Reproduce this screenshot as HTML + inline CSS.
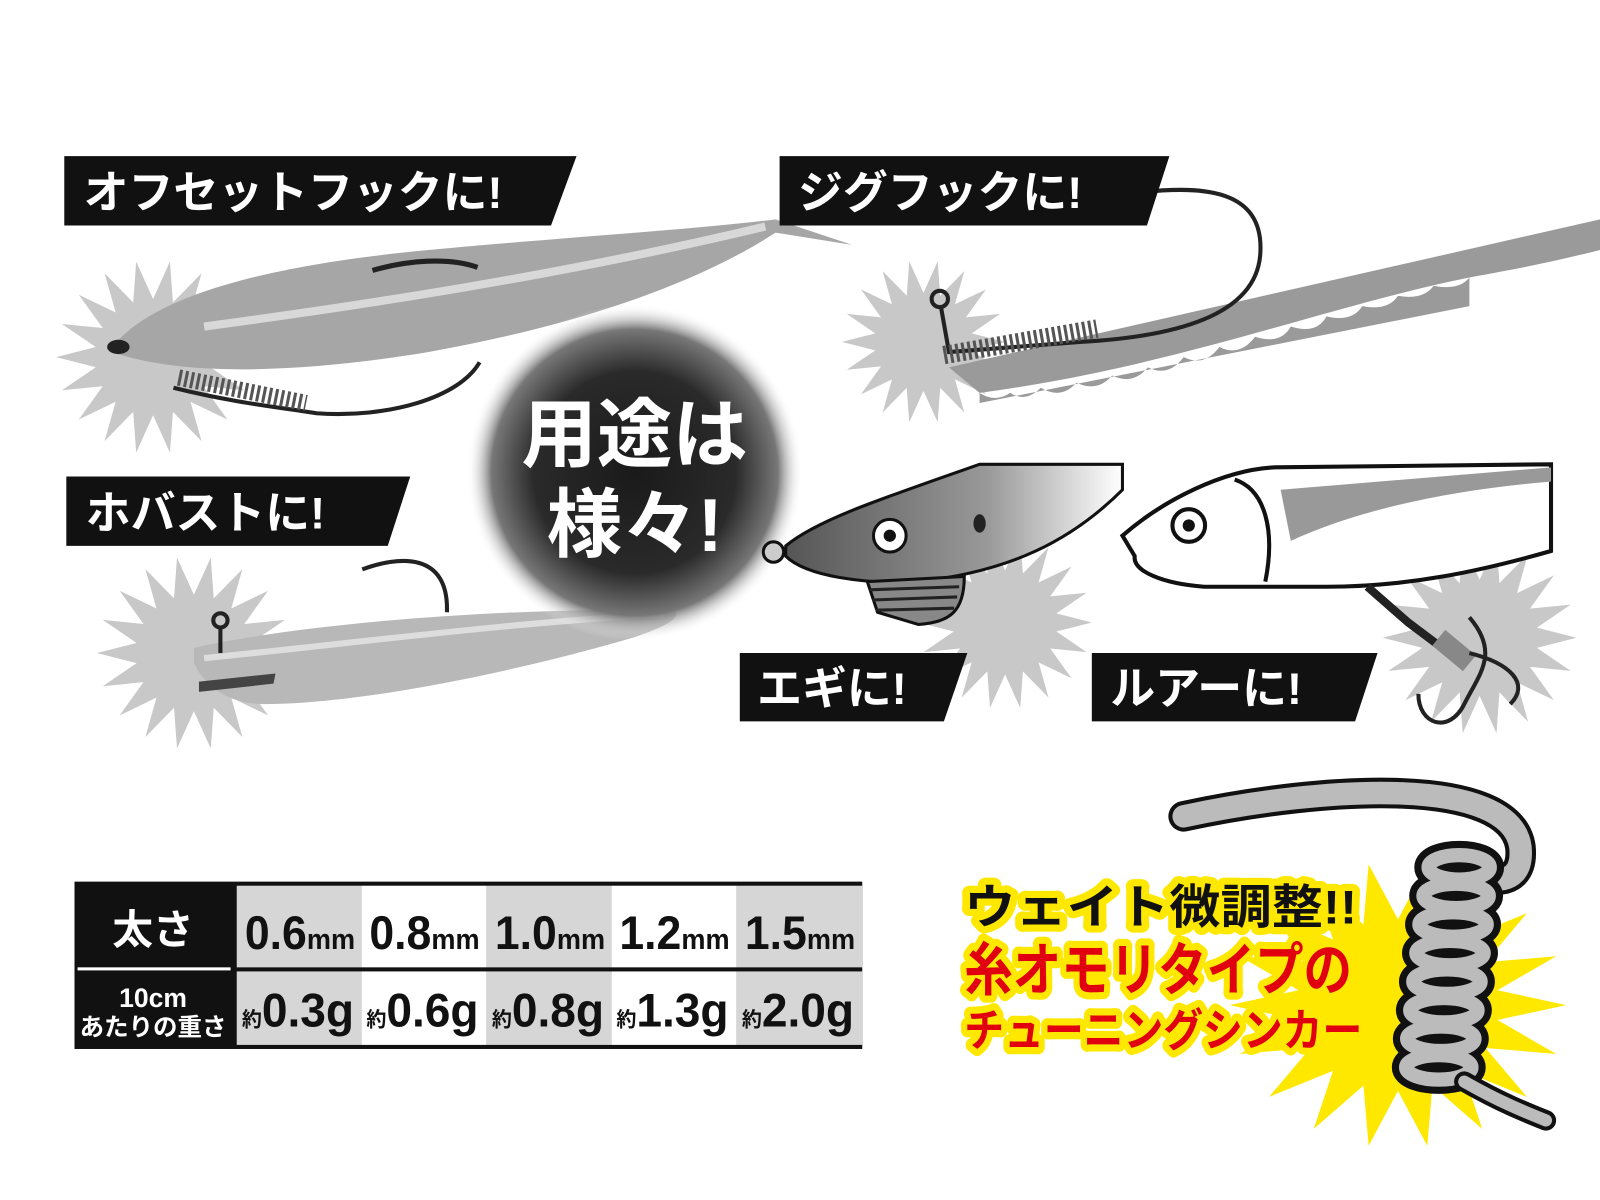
<!DOCTYPE html>
<html><head><meta charset="utf-8"><style>
html,body{margin:0;padding:0;background:#fff;width:1600px;height:1200px;overflow:hidden}
svg{display:block}
text{font-family:"Liberation Sans","Noto Sans CJK JP",sans-serif;font-weight:bold}
</style></head><body>
<svg width="1600" height="1200" viewBox="0 0 1568 1176" preserveAspectRatio="none">
<defs>
<polygon id="star" points="1,0 .591,.104 .94,.342 .52,.3 .766,.643 .386,.46 .5,.866 .205,.564 .174,.985 0,.6 -.174,.985 -.205,.564 -.5,.866 -.386,.46 -.766,.643 -.52,.3 -.94,.342 -.591,.104 -1,0 -.591,-.104 -.94,-.342 -.52,-.3 -.766,-.643 -.386,-.46 -.5,-.866 -.205,-.564 -.174,-.985 0,-.6 .174,-.985 .205,-.564 .5,-.866 .386,-.46 .766,-.643 .52,-.3 .94,-.342 .591,-.104"/>
<radialGradient id="cg" cx="50%" cy="50%" r="50%">
<stop offset="0" stop-color="#1a1a1a"/><stop offset=".6" stop-color="#2a2a2a"/><stop offset=".85" stop-color="#777"/><stop offset="1" stop-color="#fff" stop-opacity="0"/></radialGradient>
<linearGradient id="eg" x1="0" x2="1"><stop offset="0" stop-color="#555"/><stop offset=".6" stop-color="#999"/><stop offset="1" stop-color="#fff"/></linearGradient>
</defs>
<rect width="1568" height="1176" fill="#fff"/>

<g fill="#c8c8c8">
<use href="#star" transform="translate(150,350) scale(95)"/>
<use href="#star" transform="translate(905,335) scale(80)"/>
<use href="#star" transform="translate(190,640) scale(95)"/>
<use href="#star" transform="translate(985,610) scale(85)"/>
<use href="#star" transform="translate(1450,625) scale(95)"/>
</g>

<path d="M110,340 C150,290 260,260 420,245 C560,232 680,225 760,215 L835,240 L760,228 C680,280 560,320 420,345 C300,365 180,370 110,345 Z" fill="#a6a6a6"/>
<path d="M200,320 C350,300 550,270 750,222" stroke="#d8d8d8" stroke-width="8" fill="none"/>
<ellipse cx="116" cy="340" rx="11" ry="7" fill="#222"/>
<path d="M365,265 C400,255 440,252 468,262" stroke="#222" stroke-width="5" fill="none"/>
<path d="M170,380 C230,395 280,400 310,405 C380,410 450,390 470,355" stroke="#222" stroke-width="4" fill="none"/>
<path d="M175,370 L300,395" stroke="#555" stroke-width="16" stroke-dasharray="3 3" fill="none"/>

<path d="M930,360 L1568,215 L1568,245 C1500,262 1460,268 1440,272 C1300,300 1150,360 960,385 Z" fill="#9a9a9a"/>
<path d="M960,385 Q975,395 990,385 Q1005,395 1020,380 Q1040,392 1055,375 Q1075,385 1090,368 Q1110,378 1125,360 Q1145,370 1160,350 Q1180,360 1195,340 Q1215,350 1230,330 Q1255,338 1265,320 Q1290,328 1300,310 Q1325,316 1335,300 Q1360,305 1370,290 Q1395,294 1405,280 Q1430,285 1440,272 L1440,300 L960,395Z" fill="#9a9a9a"/>
<path d="M1105,190 C1180,180 1240,185 1235,250 C1230,310 1150,330 1060,335 L930,345 L922,300" stroke="#222" stroke-width="4" fill="none"/>
<circle cx="921" cy="293" r="8" fill="none" stroke="#222" stroke-width="4"/>
<path d="M925,348 L1075,322" stroke="#555" stroke-width="18" stroke-dasharray="3 3" fill="none"/>

<path d="M190,635 C300,610 500,595 660,598 C670,605 650,615 620,625 C500,660 350,690 260,690 C220,690 200,670 190,650Z" fill="#b8b8b8"/>
<path d="M200,645 C350,630 500,610 650,602" stroke="#ddd" stroke-width="6" fill="none"/>
<path d="M355,558 C390,545 440,540 438,600" stroke="#222" stroke-width="4" fill="none"/>
<circle cx="216" cy="608" r="7" fill="none" stroke="#222" stroke-width="4"/>
<path d="M216,615 L216,640" stroke="#222" stroke-width="4"/>
<path d="M195,668 L270,660 L268,670 L195,678Z" fill="#444"/>

<circle cx="622" cy="463" r="165" fill="url(#cg)"/>
<text x="622" y="452" font-size="74" fill="#fff" text-anchor="middle">用途は</text>
<text x="622" y="540" font-size="74" fill="#fff" text-anchor="middle">様々!</text>

<path d="M770,535 C800,510 860,490 960,455 L1100,455 L1100,480 C1050,530 990,560 900,570 C850,573 790,565 770,545Z" fill="url(#eg)" stroke="#111" stroke-width="3"/>
<circle cx="758" cy="541" r="10" fill="#ccc" stroke="#111" stroke-width="3"/>
<circle cx="872" cy="525" r="16" fill="#fff" stroke="#111" stroke-width="3"/>
<circle cx="872" cy="525" r="6" fill="#111"/>
<ellipse cx="960" cy="513" rx="6" ry="9" fill="#222"/>
<path d="M850,570 L945,565 C945,600 930,610 900,612 L860,600Z" fill="#888" stroke="#111" stroke-width="3"/>
<path d="M852,578 L940,575 M855,588 L938,585 M858,598 L935,596" stroke="#222" stroke-width="3"/>

<path d="M1100,525 C1140,490 1200,460 1250,458 L1520,455 L1520,540 C1450,560 1380,575 1300,575 L1180,575 C1140,572 1110,560 1112,545Z" fill="#fff" stroke="#111" stroke-width="4"/>
<path d="M1255,480 L1520,458 L1520,472 C1420,480 1330,500 1265,530Z" fill="#999"/>
<circle cx="1165" cy="515" r="16" fill="#fff" stroke="#111" stroke-width="4"/>
<circle cx="1165" cy="515" r="6" fill="#111"/>
<path d="M1210,470 C1240,480 1250,520 1240,570" stroke="#111" stroke-width="4" fill="none"/>
<path d="M1340,575 L1380,610 L1420,640" stroke="#222" stroke-width="8" fill="none"/>
<path d="M1410,625 L1440,650" stroke="#888" stroke-width="20"/>
<path d="M1390,680 C1390,710 1420,720 1435,690 C1450,660 1470,640 1440,605" stroke="#222" stroke-width="4" fill="none"/>
<path d="M1440,640 C1480,650 1500,670 1480,690" stroke="#222" stroke-width="4" fill="none"/>

<g fill="#111">
<polygon points="63,153 565,153 540,221 63,221"/>
<polygon points="764,153 1146,153 1124,221 764,221"/>
<polygon points="65,467 402,467 380,535 65,535"/>
<polygon points="725,640 948,640 925,707 725,707"/>
<polygon points="1070,640 1350,640 1328,707 1070,707"/>
</g>
<g fill="#fff" font-size="44">
<text x="82" y="204">オフセットフックに!</text>
<text x="782" y="204">ジグフックに!</text>
<text x="84" y="518">ホバストに!</text>
<text x="742" y="690">エギに!</text>
<text x="1088" y="690">ルアーに!</text>
</g>

<rect x="73" y="864" width="772" height="164" fill="#111"/>
<g fill="#d6d6d6">
<rect x="232" y="868" width="122" height="80"/><rect x="477" y="868" width="122" height="80"/><rect x="722" y="868" width="123" height="80"/>
<rect x="232" y="952" width="122" height="72"/><rect x="477" y="952" width="122" height="72"/><rect x="722" y="952" width="123" height="72"/>
</g>
<g fill="#fff">
<rect x="354" y="868" width="123" height="80"/><rect x="599" y="868" width="123" height="80"/>
<rect x="354" y="952" width="123" height="72"/><rect x="599" y="952" width="123" height="72"/>
</g>
<rect x="76" y="948" width="150" height="3" fill="#fff"/>
<text x="150" y="925" font-size="40" fill="#fff" text-anchor="middle">太さ</text>
<text x="150" y="987" font-size="26" fill="#fff" text-anchor="middle" font-weight="normal">10cm</text>
<text x="150" y="1015" font-size="24" fill="#fff" text-anchor="middle" font-weight="normal">あたりの重さ</text>
<g fill="#111" font-size="46">
<text x="240" y="930" textLength="108" lengthAdjust="spacingAndGlyphs">0.6<tspan font-size="28">mm</tspan></text>
<text x="362" y="930" textLength="108" lengthAdjust="spacingAndGlyphs">0.8<tspan font-size="28">mm</tspan></text>
<text x="485" y="930" textLength="108" lengthAdjust="spacingAndGlyphs">1.0<tspan font-size="28">mm</tspan></text>
<text x="607" y="930" textLength="108" lengthAdjust="spacingAndGlyphs">1.2<tspan font-size="28">mm</tspan></text>
<text x="730" y="930" textLength="108" lengthAdjust="spacingAndGlyphs">1.5<tspan font-size="28">mm</tspan></text>
<text x="237" y="1006" textLength="110" lengthAdjust="spacingAndGlyphs"><tspan font-size="20">約</tspan>0.3g</text>
<text x="359" y="1006" textLength="110" lengthAdjust="spacingAndGlyphs"><tspan font-size="20">約</tspan>0.6g</text>
<text x="482" y="1006" textLength="110" lengthAdjust="spacingAndGlyphs"><tspan font-size="20">約</tspan>0.8g</text>
<text x="604" y="1006" textLength="110" lengthAdjust="spacingAndGlyphs"><tspan font-size="20">約</tspan>1.3g</text>
<text x="727" y="1006" textLength="110" lengthAdjust="spacingAndGlyphs"><tspan font-size="20">約</tspan>2.0g</text>
</g>

<use href="#star" transform="translate(1370,985) scale(165,140)" fill="#ffe800"/>
<path d="M1160,800 C1300,770 1480,760 1490,830 C1495,880 1440,860 1430,845" stroke="#111" stroke-width="30" fill="none" stroke-linecap="round"/>
<path d="M1160,800 C1300,770 1480,760 1490,830 C1495,880 1440,860 1430,845" stroke="#bbb" stroke-width="22" fill="none" stroke-linecap="round"/>
<g stroke="#111" stroke-width="28" fill="none">
<ellipse cx="1430" cy="850" rx="30" ry="12"/><ellipse cx="1427" cy="878" rx="32" ry="12"/><ellipse cx="1424" cy="906" rx="33" ry="12"/><ellipse cx="1421" cy="934" rx="33" ry="12"/><ellipse cx="1418" cy="962" rx="33" ry="12"/><ellipse cx="1415" cy="990" rx="33" ry="12"/><ellipse cx="1412" cy="1018" rx="33" ry="12"/><ellipse cx="1410" cy="1046" rx="32" ry="12"/>
</g>
<g stroke="#bbb" stroke-width="14" fill="none">
<ellipse cx="1430" cy="850" rx="30" ry="12"/><ellipse cx="1427" cy="878" rx="32" ry="12"/><ellipse cx="1424" cy="906" rx="33" ry="12"/><ellipse cx="1421" cy="934" rx="33" ry="12"/><ellipse cx="1418" cy="962" rx="33" ry="12"/><ellipse cx="1415" cy="990" rx="33" ry="12"/><ellipse cx="1412" cy="1018" rx="33" ry="12"/><ellipse cx="1410" cy="1046" rx="32" ry="12"/>
</g>
<path d="M1435,1060 C1470,1080 1495,1090 1515,1098" stroke="#111" stroke-width="20" fill="none" stroke-linecap="round"/>
<path d="M1435,1060 C1470,1080 1495,1090 1515,1098" stroke="#bbb" stroke-width="12" fill="none" stroke-linecap="round"/>
<g stroke="#ffe800" stroke-width="14" stroke-linejoin="round" paint-order="stroke">
<text x="945" y="905" fill="#111" font-size="46" textLength="385" lengthAdjust="spacingAndGlyphs">ウェイト微調整!!</text>
<text x="945" y="970" fill="#e00010" font-size="56" textLength="380" lengthAdjust="spacingAndGlyphs">糸オモリタイプの</text>
<text x="945" y="1025" fill="#e00010" font-size="44" textLength="390" lengthAdjust="spacingAndGlyphs">チューニングシンカー</text>
</g>
</svg>
</body></html>
